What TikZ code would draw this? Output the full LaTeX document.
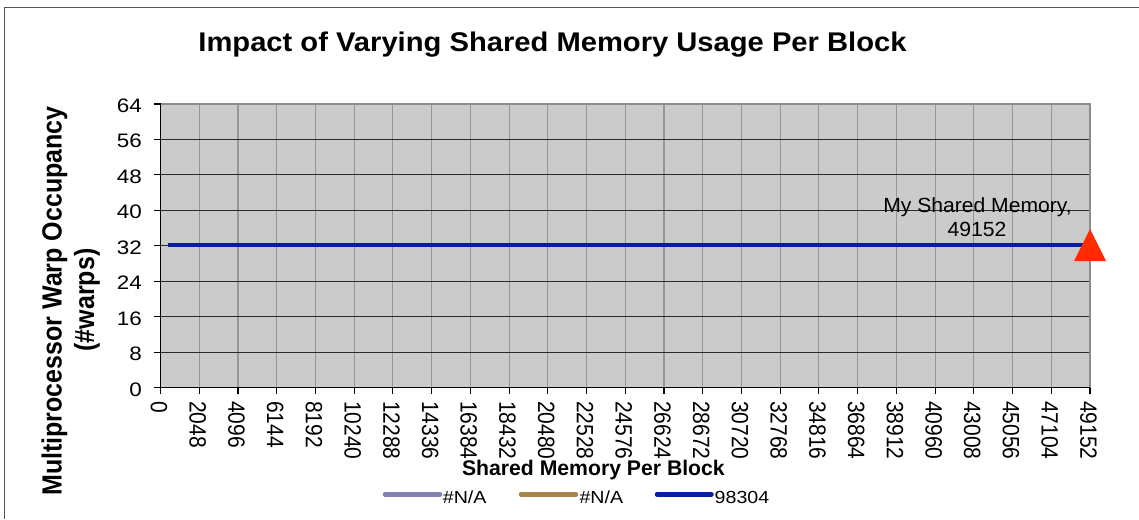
\documentclass[tikz,border=0pt]{standalone}
\usepackage{fontspec}
\setmainfont{Liberation Sans}
\usepackage{graphicx}
\newcommand{\hstr}[2]{\scalebox{#1}[1]{#2}}
\newcommand{\vstr}[2]{\scalebox{1}[#1]{#2}}
\definecolor{plotbg}{HTML}{CBCBCB}
\definecolor{vgridc}{HTML}{969696}
\definecolor{hgridc}{HTML}{2A2A2A}
\definecolor{borderc}{HTML}{8C8C8C}
\definecolor{framec}{HTML}{555555}
\definecolor{seriesblue}{HTML}{0A1E9C}
\definecolor{serieslav}{HTML}{8282B2}
\definecolor{seriestan}{HTML}{A5874E}
\definecolor{markred}{HTML}{FF2A00}
\begin{document}
\begin{tikzpicture}[x=1pt,y=-1pt,
  vgrid/.style={draw=vgridc,line width=1.1pt},
  hgrid/.style={draw=hgridc,line width=1pt},
  axisline/.style={draw=black,line width=1.3pt},
  tickmark/.style={draw=black,line width=1.1pt},
  ytick/.style={inner sep=0pt,font=\fontsize{19.5}{22}\selectfont},
  xtick/.style={inner sep=0pt,font=\fontsize{21}{24}\selectfont,rotate=-90,anchor=west},
  titlefont/.style={inner sep=0pt,font=\fontsize{27}{30}\selectfont\bfseries},
  axtitle/.style={inner sep=0pt,font=\fontsize{25}{28}\selectfont\bfseries},
  xtitle/.style={inner sep=0pt,font=\fontsize{21.2}{24}\selectfont\bfseries},
  legtext/.style={inner sep=0pt,font=\fontsize{17.5}{20}\selectfont,anchor=base west},
  annot/.style={inner sep=0pt,font=\fontsize{20.5}{23}\selectfont,anchor=base},
  legline/.style={line width=4.5pt,line cap=round},
]
\useasboundingbox (0,0) rectangle (1139,519);
\fill[white] (0,0) rectangle (1139,519);
% outer frame
\coordinate (fbl) at (4.3,519);
\coordinate (ftl) at (4.3,7.3);
\coordinate (ftr) at (1139,7.3);
\draw[framec,line width=1.2pt] (fbl) -- (ftl) -- (ftr);
% plot area
\coordinate (pbl) at (160.5,387.5);
\coordinate (ptl) at (160.5,104);
\coordinate (ptr) at (1090,104);
\coordinate (pbr) at (1090,387.5);
\fill[plotbg] (pbl) rectangle (ptr);
\foreach \k in {1,...,23}{
  \coordinate (vg\k a) at ({160.5+\k*38.7292},104);
  \coordinate (vg\k b) at ({160.5+\k*38.7292},387.5);
  \draw[vgrid] (vg\k a) -- (vg\k b);
}
\foreach \k in {1,...,7}{
  \coordinate (hg\k a) at (160.5,{387.5-\k*35.4375});
  \coordinate (hg\k b) at (1090,{387.5-\k*35.4375});
  \draw[hgrid] (hg\k a) -- (hg\k b);
}
\draw[borderc,line width=2.6pt] (ptl) -- (ptr) -- (pbr);
\draw[axisline] (ptl) -- (pbl) -- (pbr);
% y ticks and labels
\foreach \k in {0,...,8}{
  \edef\val{\the\numexpr\k*8\relax}
  \coordinate (yt\k) at (160.5,{387.5-\k*35.4375});
  \coordinate (yt\k o) at (154,{387.5-\k*35.4375});
  \draw[tickmark] (yt\k) -- (yt\k o);
  \node[ytick,anchor=east] (yl\k) at (142,{389.3-\k*35.4375}) {\hstr{1.15}{\val}};
}
% x ticks and labels
\foreach \k in {0,...,24}{
  \edef\val{\the\numexpr\k*2048\relax}
  \coordinate (xt\k) at ({160.5+\k*38.7292},387.5);
  \coordinate (xt\k o) at ({160.5+\k*38.7292},393.5);
  \draw[tickmark] (xt\k) -- (xt\k o);
  \node[xtick] (xl\k) at ({159+\k*38.7292},401) {\vstr{1.12}{\val}};
}
% data series
\coordinate (d0) at (168,245);
\coordinate (d1) at (1090,245);
\draw[seriesblue,line width=4.5pt] (d0) -- (d1);
\coordinate (mk1) at (1090,229);
\coordinate (mk2) at (1074,261);
\coordinate (mk3) at (1106,261);
\fill[markred] (mk1) -- (mk2) -- (mk3) -- cycle;
\node[annot] (an1) at (977.5,212.3) {\hstr{1.03}{My Shared Memory,}};
\node[annot] (an2) at (977,236.7) {\hstr{1.03}{49152}};
% titles
\node[titlefont,anchor=base] (title) at (552.5,51.5) {\hstr{1.08}{Impact of Varying Shared Memory Usage Per Block}};
\node[axtitle,rotate=90,anchor=base] (yt1) at (61.7,301) {\vstr{1.11}{Multiprocessor Warp Occupancy}};
\node[axtitle,rotate=90,anchor=base] (yt2) at (94,300) {\vstr{1.11}{(\#warps)}};
\node[xtitle,anchor=base] (xtitle) at (593.4,475.5) {Shared Memory Per Block};
% legend
\coordinate (l1a) at (385,494.3);
\coordinate (l1b) at (440,494.3);
\coordinate (l2a) at (521,494.3);
\coordinate (l2b) at (576,494.3);
\coordinate (l3a) at (657,494.3);
\coordinate (l3b) at (711.5,494.3);
\draw[legline,serieslav] (l1a) -- (l1b);
\draw[legline,seriestan] (l2a) -- (l2b);
\draw[legline,seriesblue] (l3a) -- (l3b);
\node[legtext] (lt1) at (442.7,503.3) {\hstr{1.12}{\#N/A}};
\node[legtext] (lt2) at (579.3,503.3) {\hstr{1.12}{\#N/A}};
\node[legtext] (lt3) at (714.5,503.3) {\hstr{1.12}{98304}};
\end{tikzpicture}
\end{document}
